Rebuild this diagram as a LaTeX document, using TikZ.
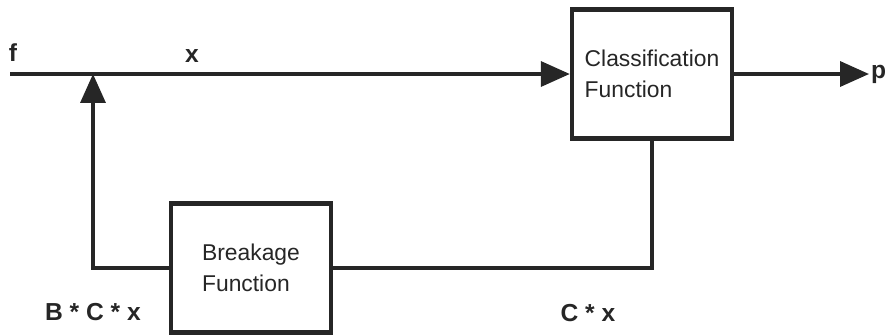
\documentclass[tikz,border=0pt]{standalone}
\usepackage{fontspec}
\setmainfont{Liberation Sans}
\usetikzlibrary{arrows.meta,positioning}

\begin{document}
\begin{tikzpicture}[x=0.02cm,y=-0.02cm,
  fbox/.style={draw=black!85,line width=2.5pt,minimum width=3.2cm,minimum height=2.58cm,inner sep=0pt,align=left,font=\fontsize{13}{18}\selectfont,text=black!85},
  sig/.style={draw=black!85,line width=2pt},
  arr/.style={sig,-{Triangle[length=0.58cm,width=0.5cm]}},
  lbl/.style={font=\fontsize{14}{16}\selectfont\bfseries,text=black!85,inner sep=0pt}]
  \useasboundingbox (0,0) rectangle (888,335);
  % blocks
  \node[fbox] (cls) at (652,74) {Classification\\Function};
  \node[fbox] (brk) at (251,268) {Breakage\\Function};
  % signal points
  \coordinate (f) at (10,74);
  \coordinate (sum) at (93,74);
  \coordinate (p) at (869,74);
  % forward path
  \draw[arr] (f) -- (cls.west);
  \draw[arr] (cls.east) -- (p);
  % feedback path
  \draw[sig] (cls.south) |- (brk.east);
  \draw[arr] (brk.west) -| (sum);
  % labels
  \node[lbl] (flbl) at (13,53) {f};
  \node[lbl] (xlbl) at (192,56) {x};
  \node[lbl,anchor=west] (plbl) at ([xshift=1pt]p) {p};
  \node[lbl] (bcx) at (93,312) {B * C * x};
  \node[lbl] (cx) at (588,313) {C * x};
\end{tikzpicture}
\end{document}
